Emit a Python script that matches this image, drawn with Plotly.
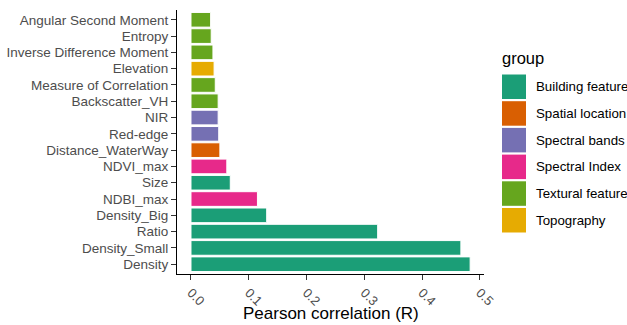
import plotly.graph_objects as go

features = ["Density", "Density_Small", "Ratio", "Density_Big", "NDBI_max", "Size",
            "NDVI_max", "Distance_WaterWay", "Red-edge", "NIR", "Backscatter_VH",
            "Measure of Correlation", "Elevation", "Inverse Difference Moment",
            "Entropy", "Angular Second Moment"]
values = [0.483, 0.467, 0.323, 0.131, 0.115, 0.068,
          0.062, 0.050, 0.048, 0.047, 0.047,
          0.042, 0.040, 0.038, 0.035, 0.034]
groups = ["Building features", "Building features", "Building features", "Building features",
          "Spectral Index", "Building features", "Spectral Index", "Spatial location",
          "Spectral bands", "Spectral bands", "Textural features", "Textural features",
          "Topography", "Textural features", "Textural features", "Textural features"]
group_order = ["Building features", "Spatial location", "Spectral bands",
               "Spectral Index", "Textural features", "Topography"]
x_ticks = [0.0, 0.1, 0.2, 0.3, 0.4, 0.5]

palette = {"Building features": "#1B9E77", "Spatial location": "#D95F02",
           "Spectral bands": "#7570B3", "Spectral Index": "#E7298A",
           "Textural features": "#66A61E", "Topography": "#E6AB02"}

W, H = 627, 325
ML, MR, MT, MB = 177, 143, 10, 51
PW, PH = W - ML - MR, H - MT - MB


def px_x(px):
    return (px - ML) / PW


def px_y(py):
    return (H - MB - py) / PH


fig = go.Figure()
for g in group_order:
    ys = [f for f, gg in zip(features, groups) if gg == g]
    xs = [v for v, gg in zip(values, groups) if gg == g]
    fig.add_trace(go.Bar(
        x=xs, y=ys, orientation="h", name=g, showlegend=False,
        marker=dict(color=palette[g], line=dict(color="white", width=1)),
        width=0.9,
    ))

# custom ggplot-style legend
annotations = [dict(text="group", xref="paper", yref="paper", x=px_x(500), y=px_y(58),
                    xanchor="left", yanchor="middle", showarrow=False,
                    font=dict(size=16.5, color="black"))]
shapes = []
for i, g in enumerate(group_order):
    top = 74.5 + i * 26.7
    shapes.append(dict(type="rect", xref="paper", yref="paper",
                       x0=px_x(502), x1=px_x(526), y0=px_y(top + 24.5), y1=px_y(top),
                       fillcolor=palette[g], line=dict(width=0)))
    annotations.append(dict(text=g, xref="paper", yref="paper", x=px_x(534),
                            y=px_y(top + 12.3), xanchor="left", yanchor="middle",
                            showarrow=False, font=dict(size=13.3, color="black")))

annotations.append(dict(text="Pearson correlation (R)", xref="paper", yref="paper",
                        x=0.5, y=px_y(313), xanchor="center", yanchor="middle",
                        showarrow=False, font=dict(size=17, color="black")))

fig.update_layout(
    width=W, height=H,
    margin=dict(l=ML, r=MR, t=MT, b=MB, autoexpand=False),
    paper_bgcolor="white", plot_bgcolor="white",
    font=dict(family="Liberation Sans, Arial, sans-serif", color="#4D4D4D", size=13.5),
    barmode="overlay",
    showlegend=False,
    annotations=annotations,
    shapes=shapes,
)
fig.update_xaxes(
    range=[-0.0242, 0.507], tickvals=x_ticks,
    ticktext=[f"{t:.1f}" for t in x_ticks], tickangle=45,
    showline=True, linecolor="black", linewidth=1,
    ticks="outside", ticklen=5, tickcolor="#333333",
    showgrid=False, zeroline=False, automargin=False,
    tickfont=dict(size=13, color="#4D4D4D"),
)
fig.update_yaxes(
    categoryorder="array", categoryarray=features,
    range=[-0.6, len(features) - 0.4],
    showline=True, linecolor="black", linewidth=1,
    ticks="outside", ticklen=5, tickcolor="#333333",
    showgrid=False, zeroline=False, automargin=False,
    tickfont=dict(size=13.5, color="#4D4D4D"),
)
fig.write_html("out.html", config={"displayModeBar": False},
               post_script="document.body.style.margin='0';document.body.style.overflow='hidden';")
